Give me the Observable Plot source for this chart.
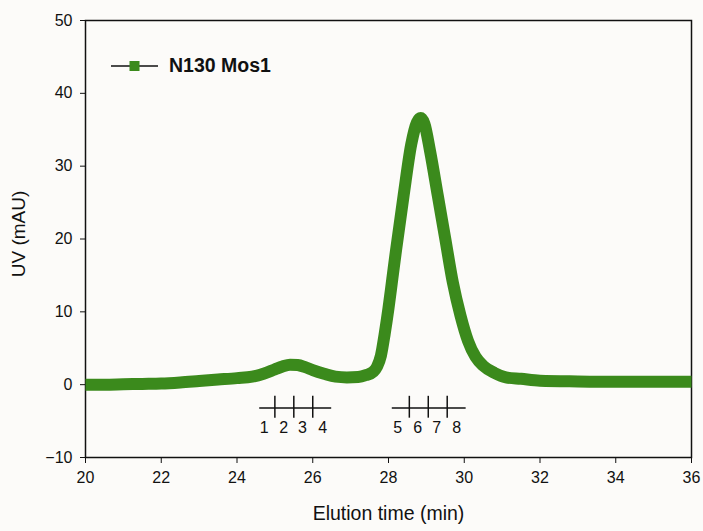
<!DOCTYPE html>
<html>
<head>
<meta charset="utf-8">
<script src="https://cdn.jsdelivr.net/npm/d3@7"></script>
<script src="https://cdn.jsdelivr.net/npm/@observablehq/plot@0.6"></script>
<style>
  html, body { margin: 0; padding: 0; background: #fcfbf9; }
  #wrap { position: relative; width: 703px; height: 531px; font-family: "Liberation Sans", Arial, sans-serif; }
  #legend { position: absolute; left: 111px; top: 54px; display: flex; align-items: center; }
  #legend span { font-weight: bold; font-size: 19.5px; color: #111; margin-left: 10px; }
</style>
</head>
<body>
<div id="wrap">
  <div id="chart"></div>
  <div id="legend">
    <svg width="48" height="22"><line x1="0" y1="11" x2="47" y2="11" stroke="#111" stroke-width="1.5"/><rect x="18.5" y="6" width="10" height="10" fill="#3b8a1c"/></svg>
    <span>N130 Mos1</span>
  </div>
</div>
<script>
// Elution time (min)
const time = [20, 20.5, 21, 21.5, 22, 22.5, 23, 23.5, 24, 24.4, 24.7, 25.0, 25.2, 25.4, 25.6, 25.8, 26.0, 26.3, 26.6, 26.9, 27.2, 27.4, 27.6, 27.7, 27.8, 27.9, 28.0, 28.1, 28.2, 28.4, 28.6, 28.75, 28.85, 28.95, 29.1, 29.3, 29.5, 29.7, 29.9, 30.1, 30.3, 30.5, 30.8, 31.1, 31.5, 32, 33, 34, 35, 36];
// UV (mAU)
const uv = [0, 0, 0.05, 0.1, 0.15, 0.3, 0.5, 0.7, 0.9, 1.1, 1.5, 2.1, 2.5, 2.75, 2.7, 2.4, 2.0, 1.5, 1.1, 1.0, 1.05, 1.3, 1.8, 2.5, 4, 7, 10.5, 14.5, 18.5, 26, 33, 36, 36.6, 35.8, 32, 26, 20, 14, 9.5, 6, 3.8, 2.6, 1.6, 1.0, 0.8, 0.55, 0.45, 0.4, 0.4, 0.4];

const xTicks = [20, 22, 24, 26, 28, 30, 32, 34, 36];
const yTicks = [-10, 0, 10, 20, 30, 40, 50];

// Fraction markers
const fracLineStart = [24.6, 28.1];
const fracLineEnd = [26.5, 30.05];
const fracLineLevel = -3.2;
const fracTicks = [25, 25.5, 26, 28.55, 29.05, 29.55];
const fracTickTop = -1.6;
const fracTickBottom = -4.6;
const fracLabels = ["1", "2", "3", "4", "5", "6", "7", "8"];
const fracLabelX = [24.72, 25.23, 25.73, 26.26, 28.24, 28.77, 29.27, 29.8];
const fracLabelLevel = -5.9;

const series = time.map((t, i) => ({t, v: uv[i]}));
const fracLines = fracLineStart.map((a, i) => ({x1: a, x2: fracLineEnd[i], y: fracLineLevel}));
const fracTickData = fracTicks.map(x => ({x, y1: fracTickTop, y2: fracTickBottom}));
const fracLabelData = fracLabels.map((s, i) => ({s, x: fracLabelX[i], y: fracLabelLevel}));

const green = "#3b8a1c";

const chart = Plot.plot({
  width: 703,
  height: 531,
  marginLeft: 85,
  marginRight: 12,
  marginTop: 20,
  marginBottom: 74,
  style: {background: "transparent", fontFamily: "'Liberation Sans', Arial, sans-serif", color: "#111"},
  x: {domain: [20, 36]},
  y: {domain: [-10, 50]},
  marks: [
    Plot.axisX({ticks: xTicks, tickSize: 6, tickPadding: 8, fontSize: 16, label: null, stroke: "#111"}),
    Plot.axisY({ticks: yTicks, tickSize: 5, tickPadding: 8, fontSize: 16, label: null, stroke: "#111"}),
    Plot.text(["Elution time (min)"], {frameAnchor: "bottom", textAnchor: "middle", dy: 62, fontSize: 19.5, fill: "#111"}),
    Plot.text(["UV (mAU)"], {frameAnchor: "left", textAnchor: "middle", dx: -67, dy: -5, rotate: -90, fontSize: 19, fill: "#111"}),
    Plot.frame({stroke: "#111", strokeWidth: 1.5}),
    Plot.ruleY(fracLines, {x1: "x1", x2: "x2", y: "y", stroke: "#111", strokeWidth: 1.5}),
    Plot.ruleX(fracTickData, {x: "x", y1: "y1", y2: "y2", stroke: "#111", strokeWidth: 1.5}),
    Plot.text(fracLabelData, {x: "x", y: "y", text: "s", fontSize: 16, fill: "#111", lineAnchor: "middle"}),
    Plot.line(series, {x: "t", y: "v", stroke: green, strokeWidth: 12, curve: "monotone-x", strokeLinejoin: "round", strokeLinecap: "butt"})
  ]
});
document.getElementById("chart").appendChild(chart);
</script>
</body>
</html>
